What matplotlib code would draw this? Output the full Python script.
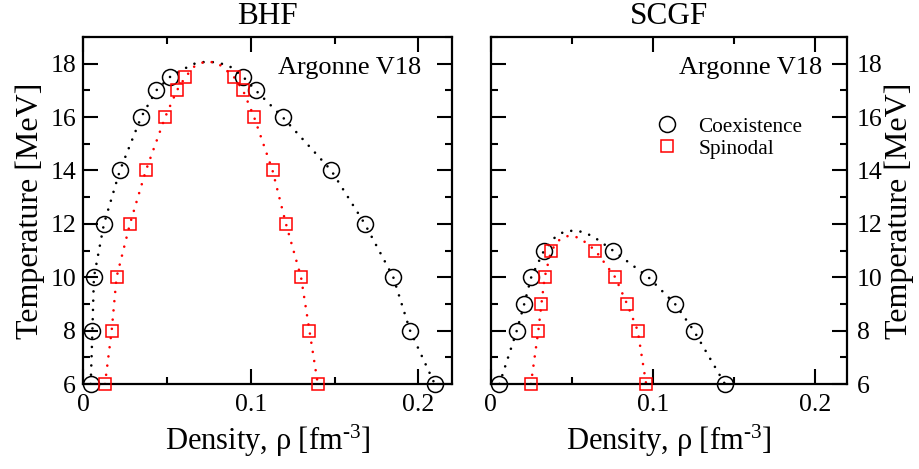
import matplotlib
matplotlib.use("Agg")
import matplotlib.pyplot as plt
from matplotlib.ticker import MultipleLocator
from matplotlib.lines import Line2D

plt.rcParams['font.family'] = ['Liberation Serif', 'DejaVu Serif']
plt.rcParams['mathtext.fontset'] = 'custom'
plt.rcParams['mathtext.rm'] = 'Liberation Serif'
plt.rcParams['mathtext.it'] = 'Liberation Serif'

# ---------------- BHF ----------------
bhf_coex_t = [6, 8, 10, 12, 14, 16, 17, 17.5]
bhf_coex_low = [0.0046, 0.0056, 0.0065, 0.0125, 0.022, 0.0347, 0.0437, 0.0518]
bhf_coex_high = [0.2097, 0.195, 0.185, 0.168, 0.148, 0.119, 0.103, 0.0956]

bhf_spin_t = [6, 8, 10, 12, 14, 16, 17, 17.5]
bhf_spin_low = [0.0131, 0.0171, 0.020, 0.028, 0.0375, 0.049, 0.056, 0.061]
bhf_spin_high = [0.140, 0.135, 0.130, 0.121, 0.113, 0.102, 0.0954, 0.090]

# dotted fit curves near the critical point
bhf_coex_top_x = [0.0613, 0.0665, 0.0716, 0.0772, 0.0826, 0.0877]
bhf_coex_top_t = [17.84, 18.0, 18.06, 18.06, 18.0, 17.89]
bhf_spin_top_x = [0.0663, 0.0716, 0.0772, 0.0823]
bhf_spin_top_t = [17.89, 18.05, 18.06, 17.93]

# ---------------- SCGF ----------------
scgf_coex_t = [6, 8, 9, 10, 11]
scgf_coex_low = [0.0054, 0.0161, 0.0207, 0.025, 0.0329]
scgf_coex_high = [0.1445, 0.1253, 0.1137, 0.0973, 0.0754]

scgf_spin_t = [6, 8, 9, 10, 11]
scgf_spin_low = [0.0248, 0.0294, 0.0313, 0.0333, 0.0373]
scgf_spin_high = [0.0959, 0.0907, 0.0841, 0.0768, 0.0646]

scgf_coex_top_x = [0.0396, 0.0445, 0.0499, 0.0554, 0.0608, 0.0657]
scgf_coex_top_t = [11.49, 11.68, 11.74, 11.71, 11.59, 11.42]
scgf_spin_top_x = [0.0424, 0.0478, 0.0530, 0.0579]
scgf_spin_top_t = [11.40, 11.55, 11.50, 11.33]

panel_titles = ["BHF", "SCGF"]
potential_label = "Argonne V18"
series_labels = ["Coexistence", "Spinodal"]

W, H = 920, 469
fig = plt.figure(figsize=(W / 100, H / 100), dpi=100)
ax1 = fig.add_axes([83 / W, (H - 384) / H, 369 / W, 347 / H])
ax2 = fig.add_axes([490.7 / W, (H - 384) / H, 356.6 / W, 347 / H])

dot = (0, (0.01, 3.5))
LW = 1.9
CIRC = dict(linestyle='none', marker='o', ms=11.5, mfc='none', mec='black', mew=1.1)
SQR = dict(linestyle='none', marker='s', ms=9.3, mfc='none', mec='red', mew=1.1)


def curve(low, high, t, top_x, top_t):
    xs = list(low) + list(top_x) + list(high)[::-1]
    ts = list(t) + list(top_t) + list(t)[::-1]
    return xs, ts


def draw(ax, ct, clo, chi, st, slo, shi, cx, cty, sx, sty):
    x, t = curve(clo, chi, ct, cx, cty)
    ax.plot(x, t, color='black', lw=LW, linestyle=dot, dash_capstyle='round', zorder=2)
    x, t = curve(slo, shi, st, sx, sty)
    ax.plot(x, t, color='red', lw=LW, linestyle=dot, dash_capstyle='round', zorder=2)
    ax.plot(list(clo) + list(chi), list(ct) + list(ct), zorder=3, clip_on=False, **CIRC)
    ax.plot(list(slo) + list(shi), list(st) + list(st), zorder=3, clip_on=False, **SQR)


draw(ax1, bhf_coex_t, bhf_coex_low, bhf_coex_high, bhf_spin_t, bhf_spin_low, bhf_spin_high,
     bhf_coex_top_x, bhf_coex_top_t, bhf_spin_top_x, bhf_spin_top_t)
draw(ax2, scgf_coex_t, scgf_coex_low, scgf_coex_high, scgf_spin_t, scgf_spin_low, scgf_spin_high,
     scgf_coex_top_x, scgf_coex_top_t, scgf_spin_top_x, scgf_spin_top_t)

xlabel_text = "Density, ρ [fm$^{\\mathrm{\u2010}3}$]"

label_x = {0: 0.918, 1: 0.929}
for i, (ax, title) in enumerate(zip((ax1, ax2), panel_titles)):
    ax.set_xlim(0, 0.22)
    ax.set_ylim(6, 19)
    ax.xaxis.set_major_locator(MultipleLocator(0.1))
    ax.xaxis.set_minor_locator(MultipleLocator(0.05))
    ax.yaxis.set_major_locator(MultipleLocator(2))
    ax.yaxis.set_minor_locator(MultipleLocator(1))
    ax.xaxis.set_major_formatter(plt.FuncFormatter(lambda v, p: "0" if abs(v) < 1e-9 else f"{v:g}"))
    ax.tick_params(which='both', direction='in', top=True, bottom=True, left=True, right=True,
                   width=1.5, labelsize=18.5)
    ax.tick_params(axis='x', which='both', pad=7)
    ax.tick_params(axis='y', which='both', pad=5)
    ax.tick_params(which='major', length=10.5)
    ax.tick_params(which='minor', length=5)
    for s in ax.spines.values():
        s.set_linewidth(1.6)
    ax.set_xlabel(xlabel_text, fontsize=22, labelpad=5)
    ax.set_title(title, fontsize=22.5, pad=9)
    ax.text(label_x[i], 0.911, potential_label, transform=ax.transAxes, ha='right', va='center',
            fontsize=19)

ax1.set_ylabel("Temperature [MeV]", fontsize=23, labelpad=4)
ax2.yaxis.set_label_position('right')
ax2.yaxis.tick_right()
ax2.tick_params(which='both', left=True, right=True, labelleft=False, labelright=True)
ax2.tick_params(axis='y', which='both', pad=7)
ax2.set_ylabel("Temperature [MeV]", fontsize=23, labelpad=1)

handles = [Line2D([], [], **CIRC), Line2D([], [], **SQR)]
ax2.legend(handles, series_labels, loc='upper left', bbox_to_anchor=(0.442, 0.794), frameon=False,
           fontsize=15.3, handlelength=1.0, handletextpad=0.96, labelspacing=0.1,
           borderaxespad=0)

fig.savefig("out.png", dpi=100)
